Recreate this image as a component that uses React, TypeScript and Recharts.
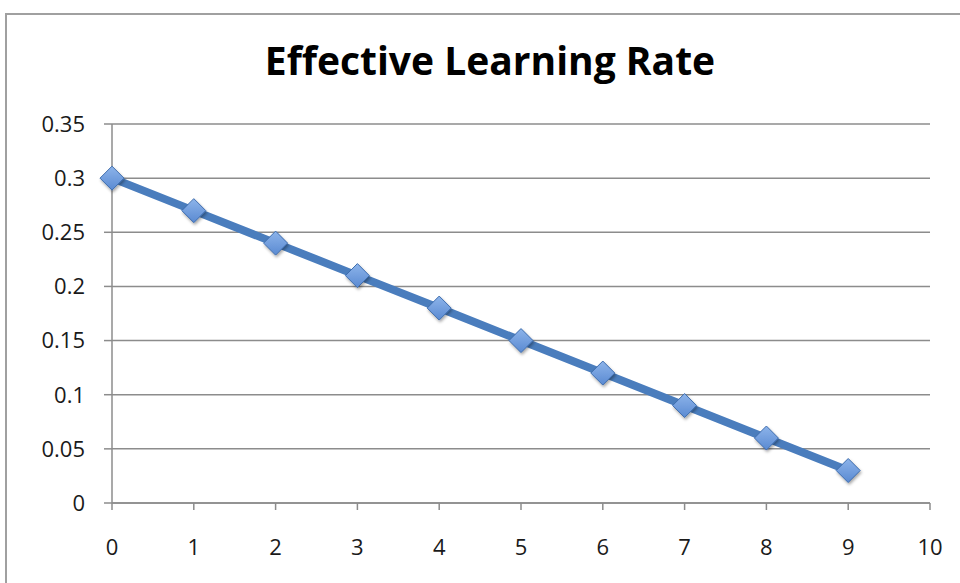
import { CartesianGrid, Line, LineChart, XAxis, YAxis } from 'recharts';

const steps = [0, 1, 2, 3, 4, 5, 6, 7, 8, 9];
const rates = [0.3, 0.27, 0.24, 0.21, 0.18, 0.15, 0.12, 0.09, 0.06, 0.03];
const xTicks = [0, 1, 2, 3, 4, 5, 6, 7, 8, 9, 10];
const yTicks = [0, 0.05, 0.1, 0.15, 0.2, 0.25, 0.3, 0.35];

const data = steps.map((step, i) => ({ step, rate: rates[i] }));

const tickStyle = { fill: '#1a1a1a', fontSize: 22, fontFamily: 'Open Sans' };

const Diamond = (props: any) => {
  const { cx, cy, index } = props;
  if (cx == null || cy == null) return null;
  const r = 12;
  return (
    <path
      key={index}
      d={`M${cx},${cy - r}L${cx + r},${cy}L${cx},${cy + r}L${cx - r},${cy}Z`}
      fill='url(#dotFill)'
      stroke='#3d6cad'
      strokeWidth={1}
      filter='url(#dotShadow)'
    />
  );
};

export default function App() {
  return (
    <div
      style={{
        position: 'absolute',
        left: 0,
        top: 0,
        width: 960,
        height: 583,
        overflow: 'hidden',
        background: '#fff',
      }}
    >
      <div
        style={{
          position: 'absolute',
          left: 5,
          top: 13,
          width: 1000,
          height: 1000,
          border: '2px solid #a0a0a0',
        }}
      />
      <div
        style={{
          position: 'absolute',
          left: 0,
          width: 980,
          top: 35,
          textAlign: 'center',
          fontFamily: 'Open Sans',
          fontWeight: 700,
          fontSize: 39,
          color: '#000',
          lineHeight: '50px',
        }}
      >
        Effective Learning Rate
      </div>
      <div style={{ position: 'absolute', left: 0, top: 0 }}>
        <LineChart
          width={960}
          height={583}
          data={data}
          margin={{ top: 124, right: 30, bottom: 0, left: 0 }}
        >
          <defs>
            <linearGradient id='dotFill' x1='0' y1='0' x2='0' y2='1'>
              <stop offset='0%' stopColor='#8db4ea' />
              <stop offset='100%' stopColor='#5a8ad2' />
            </linearGradient>
            <filter id='dotShadow' x='-50%' y='-50%' width='200%' height='200%'>
              <feDropShadow dx='1' dy='2' stdDeviation='1.5' floodColor='#000' floodOpacity='0.35' />
            </filter>
          </defs>
          <CartesianGrid vertical={false} stroke='#8c8c8c' strokeWidth={1.5} />
          <XAxis
            dataKey='step'
            type='number'
            domain={[0, 10]}
            ticks={xTicks}
            interval={0}
            height={80}
            tickSize={7}
            tickMargin={29}
            stroke='#8c8c8c'
            strokeWidth={1.5}
            tick={tickStyle}
          />
          <YAxis
            type='number'
            domain={[0, 0.35]}
            ticks={yTicks}
            interval={0}
            width={112}
            tickSize={8}
            tickMargin={19}
            stroke='#8c8c8c'
            strokeWidth={1.5}
            tick={tickStyle}
            tickFormatter={(v) => v.toString()}
          />
          <Line
            dataKey='rate'
            stroke='#4a7dbd'
            strokeWidth={8}
            dot={Diamond}
            activeDot={false}
            isAnimationActive={false}
          />
        </LineChart>
      </div>
    </div>
  );
}
